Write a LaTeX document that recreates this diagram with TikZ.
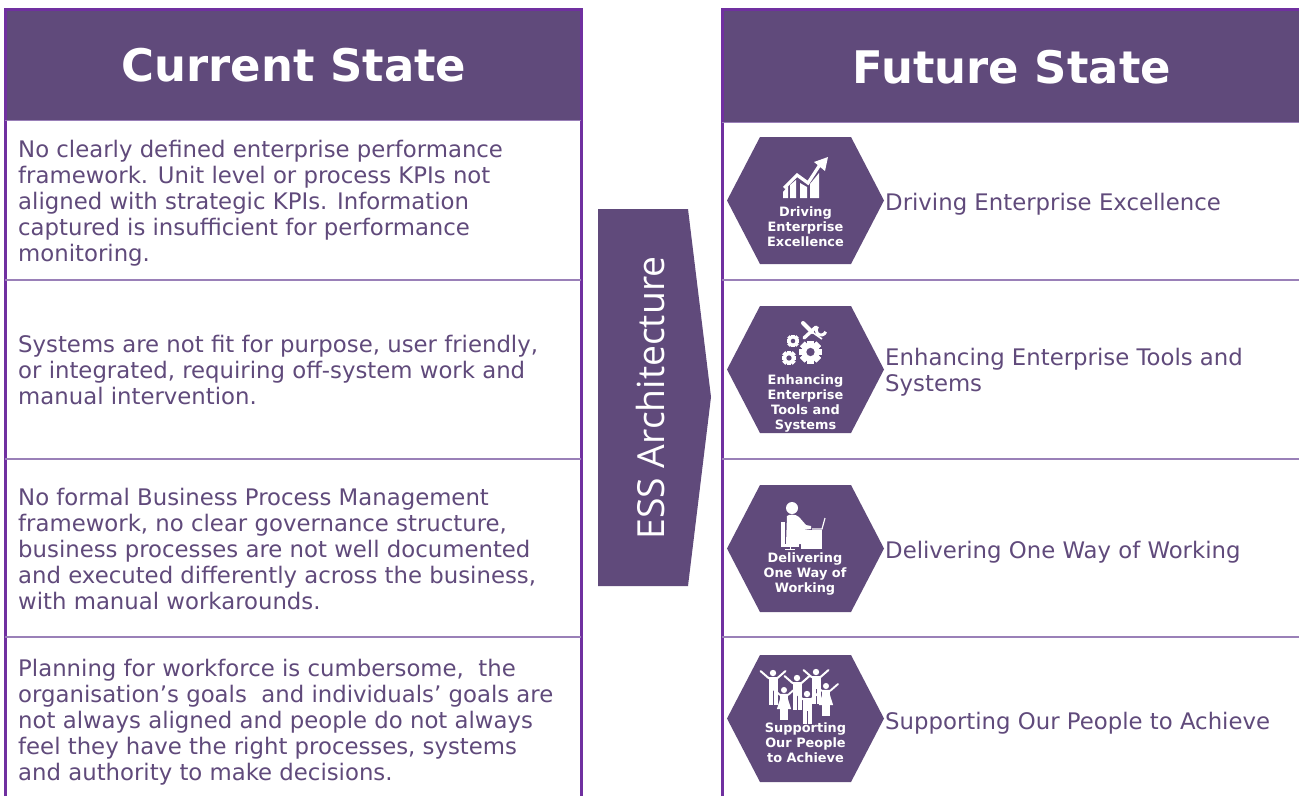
\documentclass[tikz,border=0pt]{standalone}
\usepackage{fontspec}
\setmainfont{DejaVu Sans}
\newfontfamily\essfont{Open Sans}
\definecolor{hdr}{HTML}{604A7B}
\definecolor{edge}{HTML}{7030A0}
\definecolor{rowline}{HTML}{9A80B8}
\tikzset{
  body/.style={anchor=west,align=left,text=hdr,inner sep=0pt,font=\fontsize{22.8}{26}\selectfont},
  title/.style={text=white,inner sep=0pt,font=\fontsize{44.9}{50}\selectfont\bfseries},
  hexcap/.style={text=white,align=center,inner sep=0pt,font=\fontsize{12.9}{15}\selectfont\bfseries},
  sep/.style={draw=rowline,line width=1.2pt},
  rim/.style={draw=edge,line width=3pt}
}
\newcommand{\hexagon}[1]{\fill[hdr] (727,#1+63.5) -- (760,#1) -- (851,#1) -- (884,#1+63.5) -- (851,#1+127) -- (760,#1+127) -- cycle;}
% gear: centre x,y in px, radius
\newcommand{\gearicon}[3]{%
  \foreach \a in {0,45,...,315}{\fill[white,rotate around={\a:(#1,#2)}] (#1-0.28*#3,#2-#3) rectangle (#1+0.28*#3,#2+#3);}
  \fill[white] (#1,#2) circle ({0.78*#3});
  \fill[hdr] (#1,#2) circle ({0.36*#3});}
% figure with raised arms: head x,y, scale, leg length
\newcommand{\figureicon}[4]{%
  \fill[white] (#1,#2) circle ({3.2*#3});
  \draw[white,line width={2*#3 pt},line join=round,line cap=round] (#1-12.5*#3,#2-2*#3) -- (#1-4.5*#3,#2+5*#3) -- (#1+4.5*#3,#2+5*#3) -- (#1+12.5*#3,#2-2*#3);
  \fill[white] (#1-4.5*#3,#2+4.5*#3) rectangle (#1+4.5*#3,#2+17*#3);
  \fill[white] (#1-4.5*#3,#2+16*#3) rectangle (#1-0.5*#3,#2+#4);
  \fill[white] (#1+0.5*#3,#2+16*#3) rectangle (#1+4.5*#3,#2+#4);}
% the same figure in a dress
\newcommand{\dressicon}[4]{%
  \figureicon{#1}{#2}{#3}{#4}
  \fill[white] (#1-4*#3,#2+9*#3) -- (#1+4*#3,#2+9*#3) -- (#1+7.5*#3,#2+20*#3) -- (#1-7.5*#3,#2+20*#3) -- cycle;}
\begin{document}
\begin{tikzpicture}[x=1pt,y=-1pt]
\useasboundingbox (0,0) rectangle (1299,796);
% left panel
\fill[hdr] (5,9) rectangle (581,120);
\draw[rim] (5,796) -- (5,9.5) -- (581.5,9.5) -- (581.5,796);
\draw[sep] (5,120.5) -- (581,120.5);
\draw[sep] (5,280) -- (581,280);
\draw[sep] (5,459) -- (581,459);
\draw[sep] (5,637) -- (581,637);
% right panel
\fill[hdr] (722,9) rectangle (1299,122);
\draw[rim] (722,796) -- (722,9.5) -- (1299,9.5);
\draw[sep] (722,122.5) -- (1299,122.5);
\draw[sep] (722,280) -- (1299,280);
\draw[sep] (722,459) -- (1299,459);
\draw[sep] (722,637) -- (1299,637);
% titles
\node[title] (cur) at (294,65) {Current State};
\node[title] (fut) at (1012,67) {Future State};
% left text
\node[body] (l1) at (18,203) {No clearly defined enterprise performance\\framework. Unit level or process KPIs not\\aligned with strategic KPIs. Information\\captured is insufficient for performance\\monitoring.};
\node[body] (l2) at (18,370) {Systems are not fit for purpose, user friendly,\\or integrated, requiring off-system work and\\manual intervention.};
\node[body] (l3) at (18,549) {No formal Business Process Management\\framework, no clear governance structure,\\business processes are not well documented\\and executed differently across the business,\\with manual workarounds.};
\node[body] (l4) at (18,722) {Planning for workforce is cumbersome,\ \ the\\organisation’s goals\ \ and individuals’ goals are\\not always aligned and people do not always\\feel they have the right processes, systems\\and authority to make decisions.};
% arrow
\fill[hdr] (598,209) -- (688,209) -- (711,397) -- (688,586) -- (598,586) -- cycle;
\node[text=white,inner sep=0pt,rotate=90,font=\fontsize{37.3}{40}\selectfont\essfont] (ess) at (651,398) {ESS Architecture};
% right labels
\node[body] (r1) at (885,204) {Driving Enterprise Excellence};
\node[body] (r2) at (885,372) {Enhancing Enterprise Tools and\\Systems};
\node[body] (r3) at (885,552) {Delivering One Way of Working};
\node[body] (r4) at (885,723) {Supporting Our People to Achieve};
% hexagons
\hexagon{137}\hexagon{306}\hexagon{485}\hexagon{655}
% icon 1: chart
\fill[white] (783,198) -- (783,192) -- (788,186) -- (788,198) -- cycle;
\fill[white] (790,198) -- (790,185) -- (796,180) -- (796,198) -- cycle;
\fill[white] (800,198) -- (800,183) -- (807,187) -- (807,198) -- cycle;
\fill[white] (810,198) -- (810,184) -- (819,173) -- (819,198) -- cycle;
\draw[white,line width=3.2pt,line join=miter] (784,188) -- (797,175) -- (808,183) -- (821,163);
\fill[white] (828,157) -- (825,171) -- (814,162) -- cycle;
% icon 2: tools and gears
\draw[white,line width=4pt,line cap=round] (803,323) -- (812,332);
\draw[white,line width=1.6pt] (812,332) -- (822,339);
\draw[white,line width=3.4pt,line cap=round] (804,338) -- (816,327);
\draw[white,line width=3pt] (817.5,326.5) arc (225:20:5) ;
\fill[hdr] (821,321) -- (829,316) -- (829,323) -- cycle;
\gearicon{793}{341}{6.3}
\gearicon{789}{358}{7.3}
\gearicon{810.5}{352}{11.5}
% icon 3: person at desk
\fill[white] (792,508) circle (6);
\fill[white] (787,516) .. controls (789,514) and (796,514) .. (799,517) -- (806,525) -- (811,526) -- (811,529) -- (803,530) -- (802,544) -- (786,544) -- cycle;
\fill[white] (781,522) rectangle (785,546);
\fill[white] (781,544) rectangle (799,547);
\draw[white,line width=1pt] (790,547) -- (790,549) (785,549) -- (795,549);
\fill[white] (801,530) rectangle (822,549);
\draw[white,line width=1.2pt] (812,529) -- (822,529) -- (825,518);
% icon 4: people
\figureicon{773}{673}{1}{32}
\figureicon{816}{672}{1}{32}
\figureicon{797}{678}{1}{32}
\dressicon{826}{686}{0.95}{30}
\dressicon{784}{690}{0.95}{30}
\figureicon{807}{694}{1}{30}
% hex captions
\node[hexcap] (h1) at (805.5,226.5) {Driving\\Enterprise\\Excellence};
\node[hexcap] (h2) at (805.5,403.5) {Enhancing\\Enterprise\\Tools and\\Systems};
\node[hexcap] (h3) at (805,573.5) {Delivering\\One Way of\\Working};
\node[hexcap] (h4) at (805.5,742.5) {Supporting\\Our People\\to Achieve};
\end{tikzpicture}
\end{document}
